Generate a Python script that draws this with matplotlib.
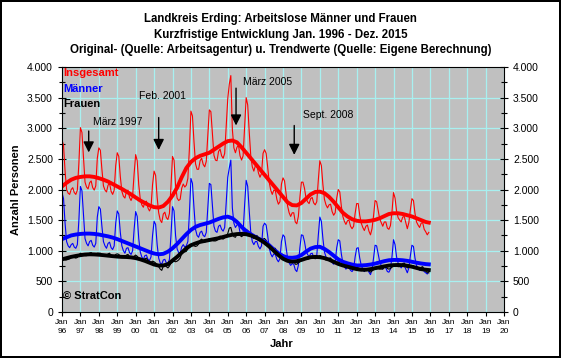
import matplotlib
matplotlib.use("Agg")
import matplotlib.pyplot as plt
import numpy as np
from matplotlib.ticker import FuncFormatter, MultipleLocator

plt.rcParams["font.family"] = ["Liberation Sans", "DejaVu Sans"]

YEARS = list(range(1996, 2016))

# monthly raw values Jan..Dec, one row per year 1996-2015
maenner = [
    [1950, 1850, 1450, 1150, 1080, 1050, 1100, 1120, 1060, 1040, 1100, 1500],
    [2050, 1980, 1600, 1200, 1120, 1080, 1150, 1170, 1090, 1060, 1120, 1550],
    [1720, 1680, 1400, 1150, 1080, 1040, 1120, 1140, 1050, 1020, 1080, 1450],
    [1650, 1600, 1300, 1080, 1000, 960, 1040, 1050, 970, 940, 1000, 1350],
    [1640, 1560, 1200, 980, 900, 860, 920, 930, 860, 840, 900, 1250],
    [1480, 1430, 1100, 880, 800, 780, 850, 860, 800, 790, 860, 1250],
    [1720, 1650, 1250, 1030, 970, 960, 1060, 1100, 1060, 1080, 1150, 1600],
    [2180, 2100, 1700, 1350, 1250, 1220, 1300, 1320, 1250, 1230, 1300, 1700],
    [2100, 2080, 1750, 1400, 1320, 1300, 1400, 1420, 1350, 1320, 1380, 1800],
    [2200, 2350, 2480, 1700, 1450, 1380, 1420, 1430, 1300, 1250, 1300, 1750],
    [2150, 2050, 1650, 1300, 1150, 1100, 1150, 1150, 1070, 1030, 1080, 1400],
    [1450, 1420, 1250, 1050, 950, 900, 950, 940, 860, 820, 870, 1150],
    [1260, 1230, 1050, 880, 800, 760, 790, 780, 690, 660, 760, 1050],
    [1260, 1250, 1150, 1000, 940, 900, 950, 960, 900, 880, 920, 1250],
    [1550, 1480, 1200, 980, 900, 850, 880, 880, 810, 780, 820, 1050],
    [1180, 1160, 950, 800, 740, 700, 730, 730, 680, 660, 700, 900],
    [1040, 1050, 880, 760, 700, 660, 700, 710, 650, 610, 690, 880],
    [1090, 1080, 950, 820, 760, 700, 730, 720, 660, 650, 700, 900],
    [1180, 1100, 900, 800, 760, 720, 760, 760, 700, 640, 720, 920],
    [1090, 1070, 880, 760, 720, 680, 720, 720, 660, 640, 620, 660],
]
frauen = [
    [860, 870, 850, 850, 860, 870, 900, 910, 890, 880, 890, 930],
    [960, 950, 930, 920, 920, 930, 960, 970, 940, 930, 940, 960],
    [960, 960, 930, 910, 910, 920, 950, 960, 920, 900, 910, 940],
    [950, 940, 910, 890, 890, 900, 930, 940, 900, 880, 890, 910],
    [930, 910, 880, 860, 850, 850, 870, 880, 840, 810, 810, 830],
    [820, 800, 770, 740, 700, 680, 750, 770, 740, 720, 750, 800],
    [820, 830, 820, 830, 850, 880, 960, 990, 980, 990, 1030, 1060],
    [1100, 1100, 1080, 1070, 1080, 1110, 1170, 1190, 1160, 1140, 1160, 1180],
    [1200, 1190, 1170, 1160, 1160, 1170, 1220, 1240, 1200, 1190, 1210, 1240],
    [1280, 1370, 1380, 1280, 1230, 1220, 1270, 1290, 1250, 1230, 1250, 1280],
    [1350, 1330, 1290, 1250, 1220, 1200, 1240, 1250, 1200, 1170, 1180, 1190],
    [1200, 1170, 1120, 1070, 1040, 1020, 1040, 1040, 980, 940, 930, 940],
    [930, 910, 880, 850, 820, 800, 830, 840, 780, 780, 800, 820],
    [860, 870, 870, 860, 860, 870, 900, 910, 880, 870, 880, 900],
    [920, 910, 880, 860, 850, 850, 870, 880, 830, 800, 800, 810],
    [820, 800, 780, 760, 740, 730, 760, 770, 720, 700, 700, 710],
    [730, 720, 700, 690, 680, 670, 700, 710, 670, 650, 670, 690],
    [730, 720, 710, 700, 700, 700, 740, 750, 710, 700, 710, 730],
    [770, 760, 750, 740, 740, 750, 790, 800, 760, 720, 740, 750],
    [760, 750, 730, 710, 700, 700, 730, 740, 690, 670, 640, 640],
]
insgesamt = [
    [2810, 2720, 2300, 2000, 1940, 1920, 2000, 2030, 1950, 1920, 1990, 2430],
    [3010, 2930, 2530, 2120, 2040, 2010, 2110, 2140, 2030, 1990, 2060, 2510],
    [2680, 2640, 2330, 2060, 1990, 1960, 2070, 2100, 1970, 1920, 1990, 2390],
    [2600, 2540, 2210, 1970, 1890, 1860, 1970, 1990, 1870, 1820, 1890, 2260],
    [2570, 2470, 2080, 1840, 1750, 1710, 1790, 1810, 1700, 1650, 1710, 2080],
    [2300, 2230, 1870, 1620, 1500, 1460, 1600, 1630, 1540, 1510, 1610, 2050],
    [2540, 2480, 2070, 1860, 1820, 1840, 2020, 2090, 2040, 2070, 2180, 2660],
    [3280, 3200, 2780, 2420, 2330, 2330, 2470, 2510, 2410, 2370, 2460, 2880],
    [3300, 3270, 2920, 2560, 2480, 2470, 2620, 2660, 2550, 2510, 2590, 3040],
    [3480, 3720, 3860, 2980, 2680, 2600, 2690, 2720, 2550, 2480, 2550, 3030],
    [3500, 3380, 2940, 2550, 2370, 2300, 2390, 2400, 2270, 2200, 2260, 2590],
    [2650, 2590, 2370, 2120, 1990, 1920, 1990, 1980, 1840, 1760, 1800, 2090],
    [2190, 2140, 1930, 1730, 1620, 1560, 1620, 1620, 1470, 1440, 1560, 1870],
    [2120, 2120, 2020, 1860, 1800, 1770, 1850, 1870, 1780, 1750, 1800, 2150],
    [2470, 2390, 2080, 1840, 1750, 1700, 1750, 1760, 1640, 1580, 1620, 1860],
    [2000, 1960, 1730, 1560, 1480, 1430, 1490, 1500, 1400, 1360, 1400, 1610],
    [1770, 1770, 1580, 1450, 1380, 1330, 1400, 1420, 1320, 1260, 1360, 1570],
    [1820, 1800, 1660, 1520, 1460, 1400, 1470, 1470, 1370, 1350, 1410, 1630],
    [1950, 1860, 1650, 1540, 1500, 1470, 1550, 1560, 1460, 1360, 1460, 1670],
    [1850, 1820, 1610, 1470, 1420, 1380, 1450, 1460, 1350, 1310, 1260, 1300],
]

# trend values, quarterly (Jan, Apr, Jul, Oct) 1996-2015, plus Dec 2015
trend_ins = [
    2050, 2110, 2160, 2190, 2205, 2215, 2215, 2205, 2185, 2160, 2130, 2090,
    2050, 2010, 1965, 1920, 1870, 1820, 1780, 1740, 1712, 1705, 1730, 1800,
    1900, 2030, 2200, 2350, 2450, 2510, 2550, 2575, 2600, 2650, 2700, 2750,
    2790, 2800, 2770, 2690, 2600, 2510, 2420, 2330, 2240, 2150, 2060, 1970,
    1880, 1790, 1745, 1740, 1780, 1850, 1920, 1960, 1965, 1940, 1880, 1800,
    1710, 1620, 1560, 1515, 1490, 1480, 1480, 1490, 1505, 1530, 1565, 1600,
    1612, 1612, 1600, 1580, 1560, 1530, 1500, 1470, 1460,
]
trend_m = [
    1190, 1220, 1250, 1265, 1275, 1280, 1280, 1275, 1265, 1250, 1235, 1215,
    1190, 1160, 1130, 1100, 1070, 1040, 1010, 980, 955, 942, 950, 985,
    1040, 1110, 1190, 1270, 1340, 1390, 1420, 1440, 1460, 1490, 1520, 1545,
    1557, 1530, 1470, 1390, 1320, 1270, 1225, 1185, 1150, 1090, 1020, 960,
    915, 888, 885, 895, 930, 985, 1035, 1060, 1065, 1030, 980, 920,
    860, 820, 795, 775, 760, 760, 765, 775, 790, 810, 830, 845,
    850, 850, 845, 835, 820, 805, 792, 782, 778,
]
trend_f = [
    860, 880, 900, 915, 928, 938, 942, 940, 935, 928, 920, 912,
    905, 900, 898, 892, 880, 860, 835, 805, 775, 758, 760, 780,
    840, 900, 970, 1040, 1090, 1120, 1145, 1160, 1175, 1190, 1205, 1225,
    1245, 1262, 1272, 1275, 1270, 1250, 1220, 1180, 1130, 1070, 1000, 930,
    870, 835, 822, 830, 850, 875, 895, 900, 895, 880, 855, 820,
    785, 760, 740, 720, 700, 690, 690, 700, 715, 730, 745, 758,
    765, 768, 765, 755, 740, 720, 700, 690, 685,
]

notes = [
    ("März 1997", 1997.45, 3000, 2560, 1997.67, 3110),
    ("Feb. 2001", 2001.25, 3220, 2600, 2000.18, 3530),
    ("März 2005", 2005.45, 3700, 3000, 2005.83, 3760),
    ("Sept. 2008", 2008.61, 3090, 2520, 2009.08, 3220),
]

x_month = np.array([y + m / 12 for y in YEARS for m in range(12)])
x_trend = np.append(np.arange(1996, 2016, 0.25), 2015 + 11 / 12)

fig = plt.figure(figsize=(5.61, 3.58), dpi=100, facecolor="white",
                 edgecolor="black", linewidth=1.5)
ax = fig.add_axes([62 / 561, 46 / 358, 442 / 561, 245 / 358])
ax.set_facecolor("#c0c0c0")

ax.plot(x_month, np.ravel(insgesamt), color="#ff0000", lw=0.8)
ax.plot(x_month, np.ravel(maenner), color="#0000ff", lw=0.8)
ax.plot(x_month, np.ravel(frauen), color="black", lw=0.8)
ax.plot(x_trend, trend_ins, color="#ff0000", lw=2.8)
ax.plot(x_trend, trend_m, color="#0000ff", lw=2.8)
ax.plot(x_trend, trend_f, color="black", lw=2.8)

ax.set_xlim(1996, 2020)
ax.set_ylim(0, 4000)
ax.set_xticks(range(1996, 2021))
ax.set_xticklabels([f"Jan\n{y % 100:02d}" for y in range(1996, 2021)],
                   fontsize=6, linespacing=1.5)
ax.yaxis.set_major_locator(MultipleLocator(500))
ax.yaxis.set_minor_locator(MultipleLocator(250))
ax.yaxis.set_major_formatter(FuncFormatter(lambda v, p: f"{int(v):,}".replace(",", ".")))
ax.tick_params(axis="y", which="both", direction="inout", right=True,
               labelright=True, labelsize=7.5, length=6, width=0.8)
ax.tick_params(axis="y", which="minor", length=4)
ax.tick_params(axis="x", direction="out", length=3, width=0.8, pad=2)
ax.grid(True, which="major", color="#a8f0f0", lw=0.9)
ax.set_axisbelow(True)
for s in ax.spines.values():
    s.set_linewidth(0.8)

for text, xa, ytop, ytip, xt, yt in notes:
    ax.annotate("", xy=(xa, ytip), xytext=(xa, ytop),
                arrowprops=dict(arrowstyle="-|>", color="black", lw=1,
                                mutation_scale=16))
    ax.text(xt, yt, text, fontsize=7.5, va="center", ha="left")

ax.text(0.003, 0.975, "Insgesamt", color="#ff0000", fontsize=8,
        fontweight="bold", transform=ax.transAxes, va="center")
ax.text(0.003, 0.912, "Männer", color="#0000ff", fontsize=8,
        fontweight="bold", transform=ax.transAxes, va="center")
ax.text(0.003, 0.85, "Frauen", color="black", fontsize=8,
        fontweight="bold", transform=ax.transAxes, va="center")
ax.text(0.003, 0.065, "© StratCon", color="black", fontsize=8,
        fontweight="bold", transform=ax.transAxes, va="center")

ax.set_ylabel("Anzahl Personen", fontsize=8, fontweight="bold", labelpad=4)
fig.text(282 / 561, 1 - 344 / 358, "Jahr", ha="center", va="center",
         fontsize=8, fontweight="bold")

fig.text(0.5, 1 - 19 / 358, "Landkreis Erding: Arbeitslose Männer und Frauen",
         ha="center", va="center", fontsize=8.3, fontweight="bold")
fig.text(0.5, 1 - 35 / 358, "Kurzfristige Entwicklung Jan. 1996 - Dez. 2015",
         ha="center", va="center", fontsize=8.3, fontweight="bold")
fig.text(0.5, 1 - 50 / 358,
         "Original- (Quelle: Arbeitsagentur) u. Trendwerte (Quelle: Eigene Berechnung)",
         ha="center", va="center", fontsize=8.3, fontweight="bold")

fig.savefig("out.png", dpi=100, facecolor="white", edgecolor="black")
